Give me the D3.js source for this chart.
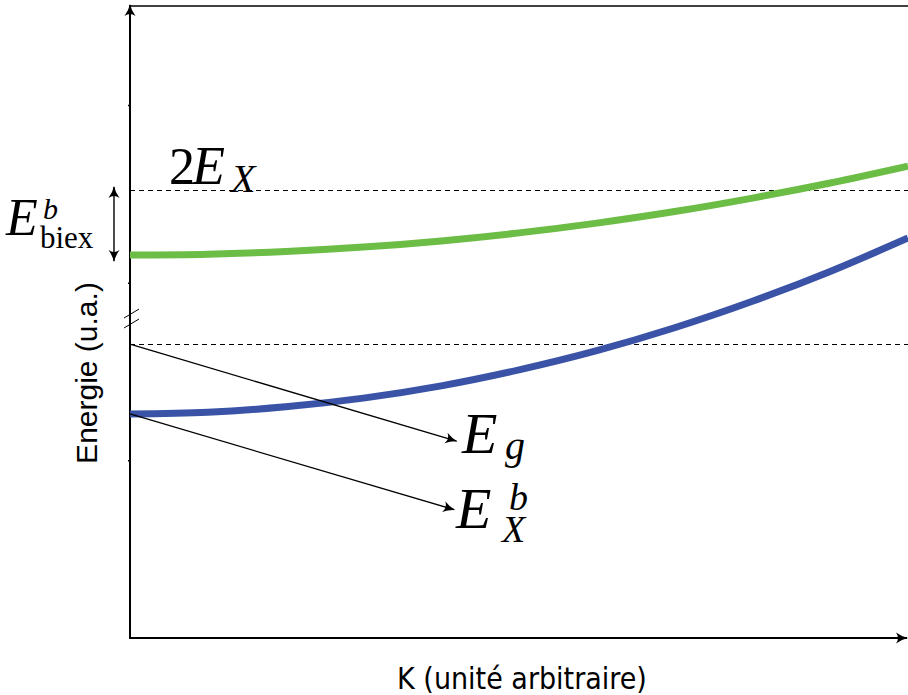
<!DOCTYPE html>
<html>
<head>
<meta charset="utf-8">
<script src="https://cdn.jsdelivr.net/npm/d3@7"></script>
<style>
  body { margin: 0; background: #fff; }
  svg { display: block; }
  .math { font-family: "Liberation Serif", "DejaVu Serif", serif; }
</style>
</head>
<body>
<div id="chart"></div>
<script>
// wave vector K (arbitrary units)
const kValues = [0, 0.1, 0.2, 0.3, 0.4, 0.5, 0.6, 0.7, 0.8, 0.9, 1.0];
// biexciton branch (green) and exciton branch (blue), energy in u.a.
const biexEnergy = [2.155, 2.160, 2.175, 2.200, 2.235, 2.280, 2.335, 2.400, 2.476, 2.561, 2.656];
const excitonEnergy = [1.261, 1.271, 1.301, 1.350, 1.419, 1.509, 1.617, 1.746, 1.895, 2.063, 2.251];
// dashed reference levels
const levelNames = ["2EX", "Eg"];
const levelValues = [2.521, 1.654];
const yTicks = [1, 2, 3];

const width = 908, height = 695;
const margin = { top: 6, right: 0, bottom: 57, left: 130 };

const svg = d3.select("#chart").append("svg")
  .attr("width", width)
  .attr("height", height);

const x = d3.scaleLinear().domain([0, 1]).range([margin.left, width - margin.right]);
const y = d3.scaleLinear().domain([0, 3.557]).range([height - margin.bottom, margin.top]);

// arrowheads (latex style)
const defs = svg.append("defs");
defs.append("marker")
  .attr("id", "tip")
  .attr("viewBox", "-12 -6 14 12")
  .attr("refX", 0).attr("refY", 0)
  .attr("markerWidth", 14).attr("markerHeight", 12)
  .attr("markerUnits", "userSpaceOnUse")
  .attr("orient", "auto-start-reverse")
  .append("path")
  .attr("d", "M-11,-5.5 Q-5,-1.2 1,0 Q-5,1.2 -11,5.5 Q-7,0 -11,-5.5Z")
  .attr("fill", "#000");

// top frame line
svg.append("line")
  .attr("x1", x(0)).attr("x2", x(1))
  .attr("y1", y(3.557)).attr("y2", y(3.557))
  .attr("stroke", "#000").attr("stroke-width", 1.5);

// dashed levels
svg.selectAll(".level")
  .data(levelValues)
  .join("line")
  .attr("class", "level")
  .attr("x1", x(0)).attr("x2", x(1))
  .attr("y1", d => Math.round(y(d)) + 0.5).attr("y2", d => Math.round(y(d)) + 0.5)
  .attr("stroke", "#000")
  .attr("stroke-width", 1.2)
  .attr("stroke-dasharray", "5,4");

// axes
const yAxis = svg.append("g")
  .attr("transform", `translate(${x(0)},0)`)
  .call(d3.axisLeft(y).tickValues(yTicks).tickSize(2).tickFormat(""));
yAxis.select(".domain").remove();
yAxis.selectAll(".tick line").attr("stroke", "#000").attr("stroke-width", 1.5);

svg.append("line")
  .attr("x1", x(0)).attr("x2", x(0))
  .attr("y1", y(0)).attr("y2", y(3.557) - 1)
  .attr("stroke", "#000").attr("stroke-width", 2)
  .attr("marker-end", "url(#tip)");

svg.append("line")
  .attr("x1", x(0) - 1).attr("x2", x(1) - 1)
  .attr("y1", y(0)).attr("y2", y(0))
  .attr("stroke", "#000").attr("stroke-width", 2)
  .attr("marker-end", "url(#tip)");

// axis break marks
[1.826, 1.770].forEach(v => {
  svg.append("line")
    .attr("x1", x(0) - 6).attr("y1", y(v) + 4.5)
    .attr("x2", x(0) + 9).attr("y2", y(v) - 4.5)
    .attr("stroke", "#000").attr("stroke-width", 1);
});

// curves
const line = d3.line()
  .x((d, i) => x(kValues[i]))
  .y(d => y(d))
  .curve(d3.curveCatmullRom);

svg.append("path")
  .datum(biexEnergy)
  .attr("d", line)
  .attr("fill", "none")
  .attr("stroke", "#6cbd45")
  .attr("stroke-width", 7);

svg.append("path")
  .datum(excitonEnergy)
  .attr("d", line)
  .attr("fill", "none")
  .attr("stroke", "#3a53a6")
  .attr("stroke-width", 7);

// annotation arrows to Eg and EXb
const pointers = [
  { from: [0, levelValues[1]], to: [0.421, 1.108] },
  { from: [0, excitonEnergy[0]], to: [0.418, 0.722] }
];
svg.selectAll(".pointer")
  .data(pointers)
  .join("line")
  .attr("class", "pointer")
  .attr("x1", d => x(d.from[0])).attr("y1", d => y(d.from[1]))
  .attr("x2", d => x(d.to[0]) - 1).attr("y2", d => y(d.to[1]))
  .attr("stroke", "#000").attr("stroke-width", 1.3)
  .attr("marker-end", "url(#tip)");

// binding energy double arrow
svg.append("line")
  .attr("x1", 114).attr("x2", 114)
  .attr("y1", y(levelValues[0]) - 3).attr("y2", y(biexEnergy[0]) + 6)
  .attr("stroke", "#000").attr("stroke-width", 1.4)
  .attr("marker-start", "url(#tip)")
  .attr("marker-end", "url(#tip)");

// math labels
function mathLabel(parts) {
  const t = svg.append("text").attr("class", "math");
  parts.forEach(p => {
    t.append("tspan")
      .attr("x", p.x)
      .attr("y", p.y)
      .attr("font-size", p.size)
      .attr("font-style", p.italic ? "italic" : "normal")
      .text(p.t);
  });
}

// 2E_X
mathLabel([
  { t: "2", x: 169, y: 184, size: 52 },
  { t: "E", x: 192, y: 184, size: 54, italic: true },
  { t: "X", x: 231, y: 192, size: 40, italic: true }
]);
// E^b_biex
mathLabel([
  { t: "E", x: 6, y: 235, size: 52, italic: true },
  { t: "b", x: 43, y: 219, size: 30, italic: true },
  { t: "biex", x: 40, y: 248, size: 31 }
]);
// E_g
mathLabel([
  { t: "E", x: 462, y: 453, size: 58, italic: true },
  { t: "g", x: 505, y: 459, size: 40, italic: true }
]);
// E^b_X
mathLabel([
  { t: "E", x: 456, y: 528, size: 58, italic: true },
  { t: "b", x: 509, y: 510, size: 38, italic: true },
  { t: "X", x: 502, y: 542, size: 38, italic: true }
]);

// axis titles
svg.append("text")
  .attr("x", 522).attr("y", 689)
  .attr("text-anchor", "middle")
  .attr("font-family", "DejaVu Sans Condensed, DejaVu Sans, sans-serif")
  .attr("font-size", 30)
  .text("K (unité arbitraire)");

svg.append("text")
  .attr("transform", "translate(97,373) rotate(-90)")
  .attr("text-anchor", "middle")
  .attr("font-family", "Liberation Sans, Arial, sans-serif")
  .attr("font-size", 30)
  .text("Energie (u.a.)");
</script>
</body>
</html>
